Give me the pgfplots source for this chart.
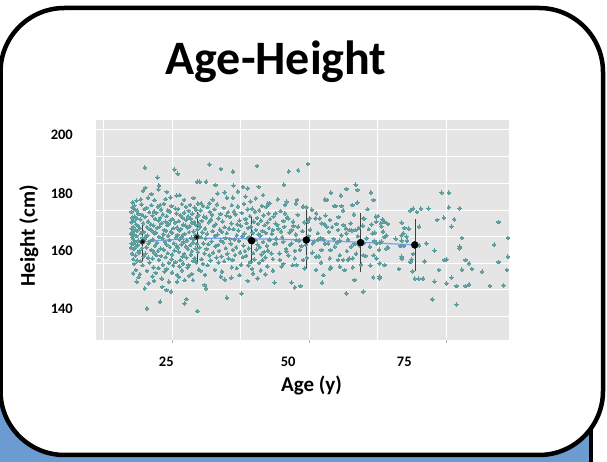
\documentclass[border=0pt]{standalone}
\usepackage{pgfplots}
\pgfplotsset{compat=1.18}
\usepackage{fontspec}
\setmainfont{Carlito}
\definecolor{panelgray}{HTML}{E5E5E5}
\definecolor{pointcol}{HTML}{5B9C9D}
\definecolor{linecol}{HTML}{7C9CF2}
\definecolor{barcol}{HTML}{3F3F3F}
\definecolor{backblue}{HTML}{6B9BD1}
\begin{document}
\begin{tikzpicture}[x=1pt,y=1pt]
\path[use as bounding box] (0,0) rectangle (607,462);
% blue backing slide and its edge
\fill[backblue] (-10,-10) rectangle (590,80);
\draw[black, line width=4pt] (590.5,-10) -- (590.5,60);
% rounded card
\draw[black, line width=4.5pt, fill=white, rounded corners=64pt] (0.5,7) rectangle (603,454);
\begin{axis}[
  at={(96pt,122pt)}, anchor=south west,
  scale only axis, width=413pt, height=220pt,
  xmin=11.1, xmax=86.5, ymin=121.25, ymax=203.75,
  axis background/.style={fill=panelgray},
  axis line style={draw=none},
  xtick={25,50,75}, minor xtick={12.5,37.5,62.5},
  ytick={140,160,180,200}, minor ytick={130,150,170,190},
  xticklabels={,,}, yticklabels={,,,},
  grid=both,
  major grid style={white, line width=1pt},
  minor grid style={white, line width=0.5pt},
  tick align=outside, xtick pos=bottom, major tick length=3pt, minor tick length=0pt,
  xtick style={gray!60, line width=0.6pt},
  ytick style={draw=none},
  extra x ticks={23.94,46.19,67.39},
  extra x tick labels={25,50,75},
  extra x tick style={grid=none, major tick length=0pt,
    xticklabel style={anchor=base, inner sep=0pt, yshift=-27pt}},
  extra y ticks={196.25,174.4,152.75,131.25},
  extra y tick labels={200,180,160,140},
  extra y tick style={grid=none, major tick length=0pt,
    yticklabel style={anchor=base east, inner sep=0pt, xshift=-23pt}},
  ticklabel style={font=\bfseries\fontsize{14.5}{17}\selectfont, text=black},
  title={Age-Height},
  title style={at={(axis description cs:0.436,1.18)}, anchor=base, inner sep=0pt,
    font=\bfseries\fontsize{48}{56}\selectfont},
  xlabel={Age (y)}, ylabel={Height (cm)},
  every axis x label/.style={at={(axis description cs:0.522,-0.235)}, anchor=base, inner sep=0pt,
    font=\bfseries\fontsize{21}{25}\selectfont},
  every axis y label/.style={at={(axis description cs:-0.1477,0.4736)}, rotate=90, anchor=base, inner sep=0pt,
    font=\bfseries\fontsize{21}{25}\selectfont},
]
% individual observations
\addplot[only marks, mark=*, mark size=1.75pt, color=pointcol, mark options={draw=pointcol, fill=pointcol, line width=0pt}] coordinates {
(18.1,171.6)(19.4,172.1)(21.2,171.8)(23.5,172.3)(24.9,171.5)(26.8,172.2)(28.3,171.9)(29.7,172.4)
(17.8,171.1)(20.3,170.8)(22.4,171.3)(25.6,170.5)(27.5,171.2)(29.1,170.9)
(18.6,169.8)(19.9,170.3)(21.7,169.5)(23.0,170.2)(24.2,169.9)(26.1,170.4)(28.0,169.7)(29.4,170.0)
(17.6,169.3)(18.9,168.5)(20.8,169.2)(22.1,168.9)(24.6,169.4)(25.8,168.7)(27.2,169.0)(28.7,168.6)
(18.2,167.5)(19.5,168.2)(21.4,167.9)(23.3,168.4)(24.0,167.7)(26.5,168.0)(27.9,167.6)(29.8,168.1)
(17.7,167.2)(18.5,166.9)(20.1,167.4)(21.9,166.7)(22.8,167.0)(25.1,166.6)(26.9,167.1)(28.4,166.8)(29.5,167.3)
(18.0,165.9)(19.2,166.4)(20.6,165.7)(22.5,166.0)(23.8,165.6)(24.7,166.1)(26.2,165.8)(27.6,166.3)(29.0,165.5)
(17.5,165.4)(18.4,164.7)(19.7,165.0)(21.1,164.6)(23.1,165.1)(24.4,164.8)(25.5,165.3)(27.0,164.5)(28.6,165.2)(29.9,164.9)
(17.9,163.7)(18.8,164.0)(20.4,163.6)(21.6,164.1)(22.7,163.8)(24.1,164.3)(25.9,163.5)(27.4,164.2)(28.2,163.9)(29.3,164.4)
(17.6,163.0)(18.3,162.6)(19.1,163.1)(20.9,162.8)(22.3,163.3)(23.6,162.5)(25.2,163.2)(26.6,162.9)(27.8,163.4)(29.6,162.7)
(17.8,161.6)(18.6,162.1)(19.8,161.8)(21.3,162.3)(22.0,161.5)(23.9,162.2)(24.8,161.9)(26.3,162.4)(28.1,161.7)(28.9,162.0)
(17.5,161.1)(18.1,160.8)(19.3,161.3)(20.5,160.5)(21.8,161.2)(23.4,160.9)(25.0,161.4)(26.0,160.7)(27.3,161.0)(29.2,160.6)
(17.7,159.8)(18.5,160.3)(19.6,159.5)(20.2,160.2)(22.6,159.9)(24.3,160.4)(25.7,159.7)(26.8,160.0)(28.5,159.6)(29.8,160.1)
(17.9,159.3)(18.8,158.5)(20.0,159.2)(21.5,158.9)(23.2,159.4)(24.5,158.7)(26.4,159.0)(27.7,158.6)(29.0,159.1)
(17.6,157.5)(18.2,158.2)(19.4,157.9)(21.0,158.4)(22.2,157.7)(23.7,158.0)(25.3,157.6)(27.1,158.1)(28.8,157.8)
(17.8,157.2)(18.7,156.9)(20.7,157.4)(21.9,156.7)(24.0,157.0)(25.8,156.6)(26.7,157.1)(28.3,156.8)(29.5,157.3)
(17.5,155.9)(18.4,156.4)(19.5,155.7)(20.3,156.0)(22.9,155.6)(24.6,156.1)(26.0,155.8)(27.5,156.3)(29.3,155.5)
(18.0,155.4)(19.0,154.7)(21.2,155.0)(22.4,154.6)(23.5,155.1)(25.4,154.8)(27.9,155.3)(28.6,154.5)
(17.7,153.7)(18.9,154.0)(20.1,153.6)(21.7,154.1)(24.2,153.8)(26.2,154.3)(27.2,153.5)(29.7,154.2)
(18.3,153.0)(19.8,152.6)(22.1,153.1)(23.0,152.8)(25.0,153.3)(26.9,152.5)(28.4,153.2)
(17.9,151.6)(20.6,152.1)(21.4,151.8)(23.8,152.3)(24.9,151.5)(27.6,152.2)(29.1,151.9)
(18.6,151.1)(19.2,150.8)(22.6,151.3)(25.6,150.5)(26.5,151.2)(28.9,150.9)
(18.1,149.8)(20.9,150.3)(23.3,149.5)(24.4,150.2)(27.0,149.9)(29.4,150.4)
(19.6,149.3)(21.6,148.5)(25.2,149.2)(26.3,148.9)(28.0,149.4)
(18.4,147.5)(22.5,148.2)(24.0,147.9)(27.8,148.4)(29.9,147.7)
(20.4,147.2)(23.6,146.9)(26.8,147.4)
(19.1,145.9)(22.0,146.4)(25.9,145.7)(28.6,146.0)
(20.0,185.9)(25.4,185.2)(26.0,183.6)(22.3,182.2)(29.6,180.6)(22.6,179.1)(22.5,177.7)(19.7,177.2)
(26.4,175.6)(25.8,175.4)(24.7,174.7)(23.8,174.1)(20.6,174.6)(21.8,173.7)(22.8,171.85)(18.0,170.4)
(18.5,173.5)(19.3,174.0)(27.2,173.8)(28.9,174.5)(24.0,176.8)(21.2,176.0)(17.8,172.9)(20.1,178.3)
(18.5,143.1)(20.0,140.6)(20.7,142.5)(21.7,143.4)(23.2,141.2)(24.0,140.0)(24.8,139.4)(24.4,143.1)
(25.9,143.1)(27.3,143.7)(28.8,143.7)(22.8,135.6)(27.3,135.0)(27.6,136.6)(20.4,133.1)(29.6,132.1)
(18.9,144.8)(21.4,145.1)(23.1,144.3)(26.2,144.9)(28.1,145.3)(17.9,146.2)(25.0,146.6)
(30.6,171.6)(33.2,172.1)(35.9,171.8)(38.1,172.3)(41.4,171.5)
(31.5,171.1)(34.4,170.8)(37.0,171.3)(39.6,170.5)(42.2,171.2)
(30.2,169.8)(32.7,170.3)(36.3,169.5)(38.8,170.2)(40.9,169.9)
(31.9,169.3)(33.8,168.5)(35.2,169.2)(37.7,168.9)(40.1,169.4)(42.6,168.7)
(30.8,167.5)(32.3,168.2)(34.9,167.9)(36.6,168.4)(39.2,167.7)(41.7,168.0)
(31.2,167.2)(33.5,166.9)(35.6,167.4)(38.4,166.7)(40.5,167.0)(42.9,166.6)
(30.4,165.9)(32.1,166.4)(34.2,165.7)(37.3,166.0)(39.9,165.6)(41.2,166.1)
(31.7,165.4)(33.0,164.7)(35.8,165.0)(36.9,164.6)(38.6,165.1)(40.7,164.8)(42.4,165.3)
(30.1,163.7)(32.6,164.0)(34.6,163.6)(37.5,164.1)(39.4,163.8)(41.9,164.3)
(31.0,163.0)(33.7,162.6)(35.4,163.1)(36.2,162.8)(38.9,163.3)(40.3,162.5)(42.7,163.2)
(30.5,161.6)(32.4,162.1)(34.1,161.8)(37.1,162.3)(39.7,161.5)(41.5,162.2)
(31.4,161.1)(33.3,160.8)(35.0,161.3)(36.8,160.5)(38.2,161.2)(40.8,160.9)(42.1,161.4)
(30.3,159.8)(32.8,160.3)(34.7,159.5)(37.8,160.2)(39.1,159.9)(41.1,160.4)
(31.1,159.3)(33.9,158.5)(35.5,159.2)(36.4,158.9)(38.7,159.4)(40.2,158.7)(42.8,159.0)
(30.7,157.5)(32.2,158.2)(34.3,157.9)(37.2,158.4)(39.5,157.7)(41.6,158.0)
(31.6,157.2)(33.4,156.9)(35.7,157.4)(38.0,156.7)(40.6,157.0)(42.3,156.6)
(30.0,155.9)(32.9,156.4)(34.8,155.7)(36.7,156.0)(39.0,155.6)(41.0,156.1)
(31.3,155.4)(33.6,154.7)(36.1,155.0)(38.3,154.6)(40.4,155.1)(42.5,154.8)
(30.9,153.7)(32.5,154.0)(35.1,153.6)(37.4,154.1)(39.8,153.8)(41.8,154.3)
(31.8,153.0)(34.0,152.6)(36.5,153.1)(38.5,152.8)(41.3,153.3)
(30.4,151.6)(33.1,152.1)(35.3,151.8)(37.9,152.3)(40.0,151.5)(42.0,152.2)
(32.0,151.1)(34.5,150.8)(36.0,151.3)(39.3,150.5)(41.5,151.2)
(30.6,149.8)(33.5,150.3)(37.6,149.5)(40.9,150.2)
(31.5,149.3)(35.9,148.5)(38.9,149.2)(42.4,148.9)
(32.8,147.5)(36.8,148.2)(39.6,147.9)
(30.2,147.2)(34.1,146.9)(41.2,147.4)
(31.8,187.1)(33.9,185.4)(36.1,184.4)(40.5,186.5)(30.0,180.6)(31.2,180.6)(32.9,179.4)(36.2,179.1)
(37.9,178.7)(38.8,178.1)(40.8,178.7)(33.3,176.2)(34.6,176.6)(35.0,174.6)(36.1,174.6)(38.4,175.0)
(40.3,174.4)(41.6,175.6)(42.5,172.5)(30.3,172.5)(31.8,172.5)(32.4,173.9)(39.3,173.2)(37.0,176.9)
(30.9,141.9)(31.2,140.6)(33.9,145.0)(35.8,144.6)(37.3,145.6)(38.8,143.4)(40.6,144.4)(35.0,137.1)
(37.7,138.7)(31.0,145.7)(34.6,143.9)(42.0,145.9)(39.8,146.2)
(44.8,169.6)(50.5,170.1)(56.2,169.8)(60.7,170.3)
(43.5,167.5)(47.9,168.2)(53.0,167.9)(58.2,168.4)(62.6,167.7)
(46.0,167.2)(51.2,166.9)(55.4,167.4)(60.1,166.7)
(43.9,164.9)(49.1,165.4)(52.8,164.7)(57.6,165.0)(61.4,164.6)
(45.5,163.7)(47.2,164.0)(54.2,163.6)(59.8,164.1)(63.2,163.8)
(44.4,163.0)(50.2,162.6)(56.7,163.1)(60.9,162.8)
(46.4,161.6)(48.8,162.1)(53.6,161.8)(57.8,162.3)(62.0,161.5)
(43.2,161.1)(47.6,160.8)(51.6,161.3)(55.9,160.5)(61.6,161.2)
(45.1,159.8)(49.9,160.3)(52.1,159.5)(58.9,160.2)(63.8,159.9)
(44.0,159.3)(48.2,158.5)(54.5,159.2)(57.1,158.9)(60.5,159.4)
(46.8,157.5)(50.9,158.2)(55.1,157.9)(61.9,158.4)
(43.6,157.2)(49.4,156.9)(52.9,157.4)(59.2,156.7)
(45.8,155.4)(47.4,154.7)(53.9,155.0)(56.9,154.6)(62.8,155.1)
(44.6,153.7)(50.6,154.0)(58.6,153.6)
(46.2,153.0)(51.8,152.6)(55.6,153.1)(60.3,152.8)
(43.4,151.6)(49.6,152.1)(57.3,151.8)
(45.3,149.8)(52.2,150.3)(59.5,149.5)
(47.0,149.3)(54.0,148.5)(61.2,149.2)
(49.8,187.25)(46.3,184.5)(48.0,184.9)(45.4,179.5)(53.96,176.5)(55.8,175.4)(56.8,177.9)(58.5,179.5)
(58.8,177.5)(61.3,176.5)(61.8,173.75)(42.8,172.5)(44.3,174)(45.9,173.1)(45.6,171.9)(47.6,172.5)
(47.8,173.75)(48.9,171.25)(49.5,171)(52.9,174)(53.3,173.75)(54.6,171.5)(54.8,171.5)(55.9,171.5)
(57.9,171.9)(58.8,172.75)(43.9,168.75)(45.6,168.75)(46.2,166.9)(45.3,165.9)(47.1,165.6)(44.2,164.4)
(43.4,162.5)(44.9,161.9)(46.8,162.5)(48.0,163.75)(49.8,165.6)(50.1,166.9)(51.3,168.75)(51.95,166.9)
(52.3,165)(53.2,163.75)(53.8,166.25)(55.0,164.75)(55.3,162.5)(56.3,164.4)(56.8,161.25)(57.4,162.5)
(58.5,162.5)(59.1,163.25)(59.9,166.9)(62.2,167.5)(62.3,165.6)(63.5,166.25)(63.5,161.9)
(42.8,158.75)(44.0,157.5)(45.3,158.1)(46.5,156.9)(47.7,158.75)(48.6,156.5)(50.7,157.5)(51.6,158.75)
(52.6,159)(53.5,157.5)(54.7,156.25)(55.6,158.5)(57.7,156.25)(58.3,157.25)(60.0,157.75)(61.1,156.25)
(62.3,157.5)(63.2,158.1)(43.1,153.75)(44.65,151.25)(45.9,154.4)(47.4,151.9)(48.3,155)(48.9,151.25)
(51.3,152.5)(52.3,155)(53.8,151.9)(55.3,151.25)(56.2,151.25)(57.1,151.25)(58.0,151.9)(59.9,153.1)
(61.8,153.1)(62.9,150)(62.3,151.9)(43.4,147.25)(44.95,148.75)(47.7,149.4)(49.2,148.1)(51.3,147.5)
(52.6,145.6)(53.8,148.1)(55.6,148.75)(56.5,147.5)(58.0,148.5)(61.7,144.75)(62.9,145)
(43.7,142.75)(46.8,142.75)(47.4,141)(48.4,141.5)(52.4,142.75)(56.8,138.75)(59.9,139.4)(58.3,143.75)
(74.2,176.5)(75.5,176.5)(68.5,169.75)(69.0,170.5)(69.7,169.25)(70.4,170.5)(71.8,170.5)(75.5,171)
(77.5,170.6)(63.4,166.5)(63.8,165.5)(64.4,164.75)(66.9,165.25)(63.1,165)(67.4,163.25)(68.2,163)
(70.1,163.75)(73.4,166.25)(74.6,167.1)(76.5,166.5)(76.0,163.75)(84.6,165.5)(64.1,160.5)(65.8,159.25)
(66.9,160.5)(67.2,161.25)(67.8,160)(66.9,158.5)(67.9,158.5)(66.7,156.5)(67.3,156.5)(71.4,157.5)
(70.1,156.75)(77.9,159.5)(77.5,156.25)(77.5,155.6)(72.9,154.75)(83.8,157)(86.3,159.5)(62.9,157.75)
(64.1,155.5)(64.4,156)(66.9,152.5)(66.9,151.75)(69.0,153.5)(68.7,151.5)(68.5,150.5)(71.1,150.75)
(74.7,151.25)(75.1,151.5)(78.6,151.25)(79.2,150)(84.6,150.5)(86.3,152.5)(63.8,149.4)(66.4,147.9)
(68.9,147)(73.7,147.5)(77.9,147.6)(79.7,147.9)(81.6,146.9)(86.1,147.5)(62.9,144.4)(69.3,144.25)
(70.0,144.25)(70.8,144.25)(72.9,143.1)(76.0,144.6)(75.1,142.5)(76.9,141.5)(78.6,141.5)(79.2,142)
(83.0,141.5)(85.5,141.75)(72.5,136.5)(76.9,134.5)
};
% smoothed trend
\addplot[linecol, line width=1.2pt, smooth] coordinates {
(19.6,158.1)(24.5,158.8)(29.5,159.3)(34.5,159.4)(39.5,159.2)(44.5,159.0)(49.5,158.7)(54.5,158.3)(59.4,157.9)(64.4,157.4)(69.3,156.9)
};
% error bars
\addplot[barcol, line width=1.3pt, only marks, mark=none,
  error bars/.cd, y dir=both, y explicit, error mark=none] coordinates {
(19.6,158.1) += (0,6.3) -= (0,7.5)
(29.5,159.8) += (0,9.6) -= (0,9.2)
(39.5,158.5) += (0,9.0) -= (0,8.5)
(49.5,158.75) += (0,11.25) -= (0,10.65)
(59.4,157.75) += (0,11.0) -= (0,10.85)
(69.3,156.9) += (0,9.7) -= (0,9.8)
};
% group means
\addplot[only marks, mark=*, mark size=1.2pt, black] coordinates {(19.6,158.1)(29.5,159.8)};
\addplot[only marks, mark=*, mark size=3.5pt, black] coordinates {(39.5,158.5)(49.5,158.75)(59.4,157.75)(69.3,156.9)};
\end{axis}
\end{tikzpicture}
\end{document}
